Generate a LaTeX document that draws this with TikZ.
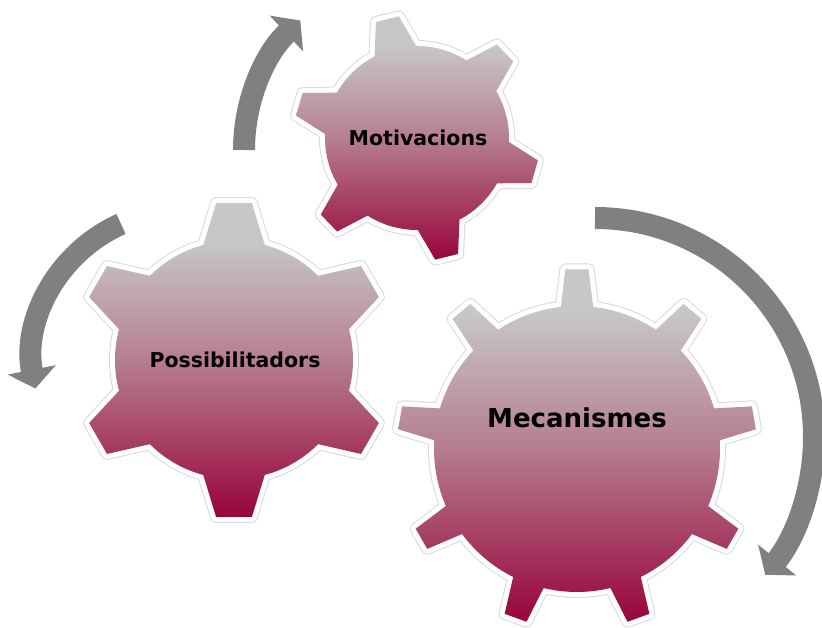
\documentclass[tikz,border=0pt]{standalone}
\usepackage{fontspec}
\setmainfont{DejaVu Sans}
\usetikzlibrary{arrows.meta}

\definecolor{geartop}{RGB}{199,199,199}
\definecolor{gearmid}{RGB}{182,126,146}
\definecolor{gearbot}{RGB}{152,4,58}

% grey on top, crimson at the bottom
\pgfdeclareverticalshading{gearshade}{100bp}{color(0bp)=(gearbot); color(25bp)=(gearbot);
  color(50bp)=(gearmid); color(69bp)=(geartop); color(75bp)=(geartop); color(100bp)=(geartop)}

% #1 teeth, #2 first tooth angle, #3 outer radius, #4 inner radius, #5 tip half angle, #6 base half angle
\newcommand{\gearshape}[6]{({#2-#6}:#4)
  \foreach \k [evaluate=\k as \a using #2+(\k-1)*360/#1] in {1,...,#1}
  { -- ({\a-#6}:#4) -- ({\a-#5}:#3) -- ({\a+#5}:#3) -- ({\a+#6}:#4)
    arc[start angle={\a+#6}, end angle={\a+360/#1-#6}, radius=#4] } -- cycle}

% #1 centre, then the six shape values
\newcommand{\gear}[7]{
  \draw[black!15, line width=12pt, line join=round, shift={(#1)}] \gearshape{#2}{#3}{#4}{#5}{#6}{#7};
  \draw[white, line width=10pt, line join=round, shift={(#1)}] \gearshape{#2}{#3}{#4}{#5}{#6}{#7};
  \shade[shading=gearshade, shift={(#1)}] \gearshape{#2}{#3}{#4}{#5}{#6}{#7};
}

\begin{document}
\begin{tikzpicture}
[x=1pt, y=1pt,
gearlabel/.style={anchor=base, font=\bfseries\fontsize{20.5}{24}\selectfont},
arr/.style={draw=gray, line width=22pt, -{Triangle[length=19pt,width=48pt]}}]

\useasboundingbox (0,0) rectangle (822,628);

\gear{234,268}{6}{90}{158}{119}{6.5}{15}
\gear{417,490}{6}{104}{123}{92}{5.5}{13.5}
\gear{577,179}{9}{90}{180}{143}{3.7}{6.5}

\node[gearlabel] (poss) at(235,260) {Possibilitadors};
\node[gearlabel] (motiv) at(418,482) {Motivacions};
\node[gearlabel, font=\bfseries\fontsize{26}{30}\selectfont] (mecan) at(577,200) {Mecanismes};

%arrows round the gears
\coordinate (a1) at(244,478);
\coordinate (a2) at(121,404);
\coordinate (a3) at(595,410);

\draw[arr] (a1) arc[start angle=180, end angle=133, radius=177];
\draw[arr] (a2) arc[start angle=114, end angle=191, radius=149];
\draw[arr] (a3) arc[start angle=90, end angle=-39, radius=219];
\end{tikzpicture}
\end{document}
